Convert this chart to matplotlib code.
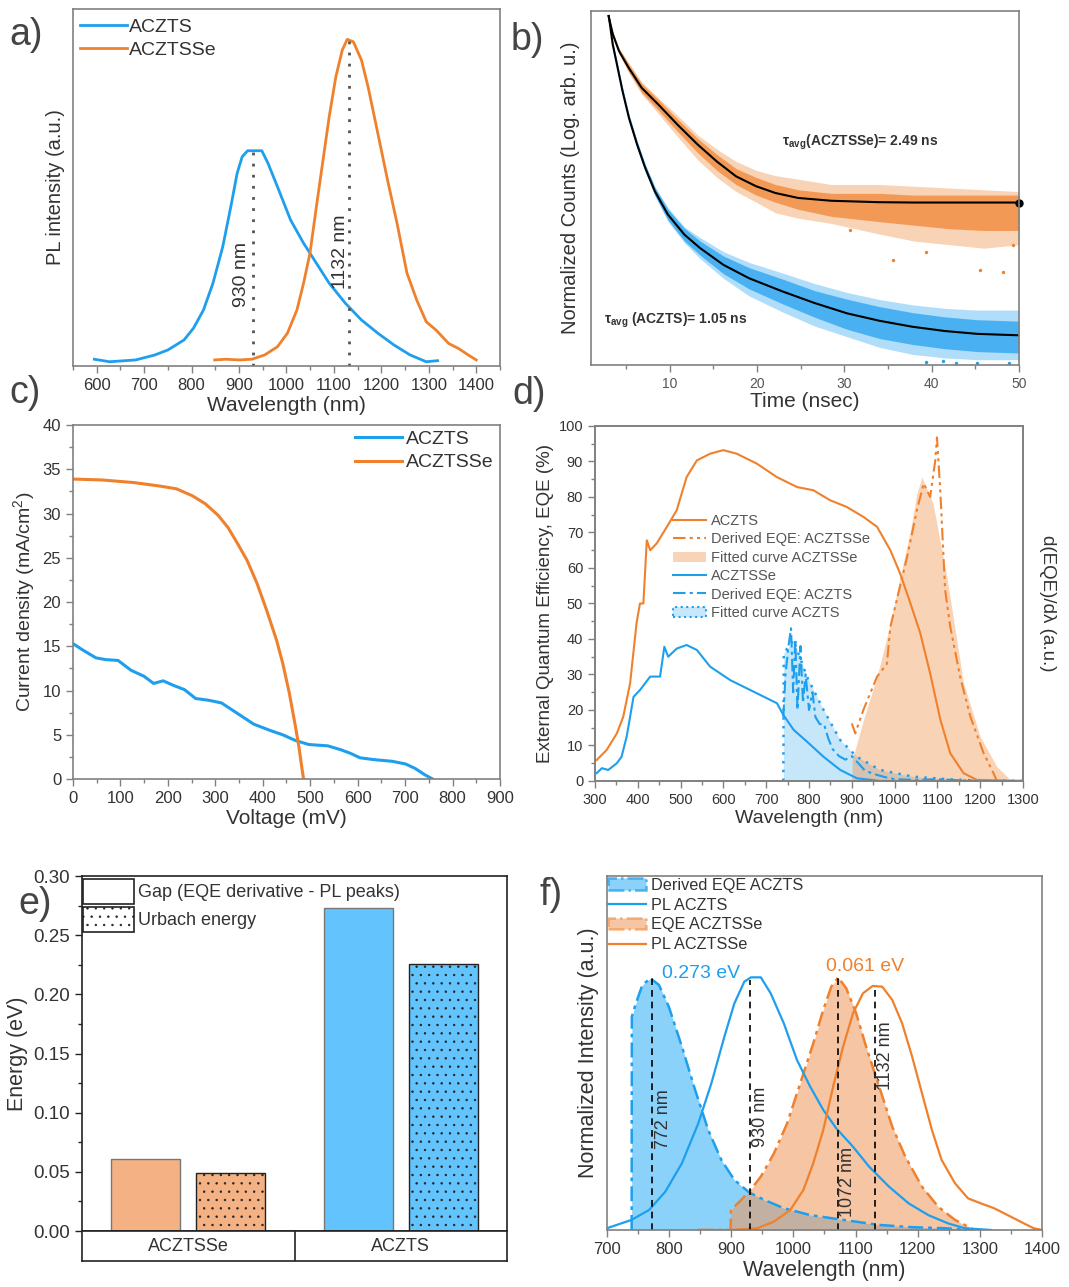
import matplotlib
matplotlib.use('Agg')
import matplotlib.pyplot as plt
from matplotlib.patches import Patch
from matplotlib.lines import Line2D
from matplotlib.ticker import MultipleLocator, NullLocator, FormatStrFormatter

plt.rcParams['font.family'] = ['Liberation Sans', 'DejaVu Sans']
plt.rcParams['mathtext.fontset'] = 'custom'
plt.rcParams['mathtext.rm'] = 'Liberation Sans'
plt.rcParams['mathtext.bf'] = 'Liberation Sans:bold'
plt.rcParams['mathtext.default'] = 'regular'
plt.rcParams['hatch.linewidth'] = 0.5

BLUE = '#1E9FEE'
ORANGE = '#F0812C'
TXT = '#333333'
SPINE = '#808080'

# ---- a) PL spectra
a_wl_s = [595, 627, 682, 722.6, 750, 784, 804, 825, 845, 865.6, 882.6, 896, 906.5, 918, 948, 961,
          981, 1008.6, 1036, 1063, 1090, 1124, 1158, 1192.5, 1226.5, 1260.5, 1294.6, 1318.5]
a_pl_s = [0.019, 0.012, 0.017, 0.031, 0.045, 0.073, 0.106, 0.157, 0.232, 0.334, 0.446, 0.54, 0.586,
          0.603, 0.603, 0.568, 0.502, 0.409, 0.344, 0.288, 0.232, 0.176, 0.129, 0.092, 0.059, 0.031,
          0.012, 0.015]
a_wl_se = [848.6, 872, 899.6, 927, 954, 981, 1002, 1022, 1036, 1049.5, 1063, 1077, 1090, 1104,
           1117.6, 1128, 1141, 1158, 1172, 1192.5, 1213, 1233, 1254, 1274.5, 1294.6, 1315, 1342,
           1362.7, 1383, 1400]
a_pl_se = [0.017, 0.019, 0.017, 0.019, 0.031, 0.054, 0.092, 0.157, 0.232, 0.316, 0.446, 0.577, 0.698,
           0.81, 0.885, 0.915, 0.908, 0.857, 0.782, 0.652, 0.521, 0.40, 0.26, 0.185, 0.124, 0.101,
           0.063, 0.049, 0.031, 0.017]
a_peaks = [930, 1132]
a_peak_h = [0.60, 0.91]

# ---- b) TRPL decays (fit line, dense core of the data cloud, sparse outer cloud)
b_t_se = [3.0, 3.5, 4.2, 5.3, 6.8, 8.7, 10.9, 13.2, 15.4, 17.6, 19.9, 22.1, 24.7, 28.5, 34, 38, 42,
          46, 50]
b_fit_se = [98.6, 93.4, 88.7, 84, 78.3, 73.6, 67.9, 62.3, 57.5, 53.3, 50.5, 48.6, 47.2, 46.4, 46.0,
            45.9, 45.9, 45.9, 45.9]
b_hi_se = [99.2, 94, 89.5, 85, 79.5, 75, 69.5, 64, 59.5, 55.5, 53, 51, 49.5, 48.5, 48.5, 48, 48, 48, 48]
b_lo_se = [98, 92.8, 88, 83, 77, 72, 66, 60, 55, 51, 48, 46, 44, 42, 40.5, 39.5, 38.5, 38, 38]
b_hi2_se = [99.2, 94, 89.5, 85.5, 80, 75.5, 70.5, 65, 61, 57.5, 55, 53.5, 52.5, 51, 51, 50.5, 50,
            49.5, 49]
b_lo2_se = [98, 92.8, 88, 82.5, 76.5, 71, 64.5, 58, 53, 49, 46, 43, 41.5, 40, 37, 35, 34, 33, 34]
b_out_t_se = [30.6, 35.6, 39.4, 45.5, 48.2, 49.3]
b_out_v_se = [38.1, 29.7, 32.0, 26.8, 26.4, 33.9]

b_t_s = [3.03, 3.48, 4.04, 4.6, 5.34, 6.27, 7.2, 8.32, 9.8, 11.7, 13.5, 16.15, 19.1, 22.9, 26.6,
         30.3, 34, 37.8, 41.5, 45.2, 48.6, 50]
b_fit_s = [98.6, 90.6, 84, 77.4, 69.8, 62.3, 55.7, 49, 42.5, 36.8, 33, 28.3, 24.5, 20.8, 17.5, 14.6,
           12.5, 10.8, 9.6, 8.8, 8.5, 8.4]
b_hi_s = [99.2, 91.4, 85, 78.4, 70.8, 63.3, 56.7, 50.2, 44, 38.6, 35, 30.8, 27.5, 24.3, 21, 18.6,
          16.5, 14.8, 13.6, 12.8, 12.5, 12.4]
b_lo_s = [98, 89.8, 83, 76.4, 68.8, 61.3, 54.7, 47.8, 41, 35, 31, 25.8, 21.5, 17.3, 13.5, 10.1, 7.5,
          5.8, 4.6, 3.8, 3.5, 3.4]
b_hi2_s = [99.2, 91.4, 85, 78.4, 70.8, 63.3, 56.7, 50.2, 44.5, 39, 36, 32, 29, 26, 23, 20.5, 18.5,
           17, 16, 15.5, 15.5, 15.5]
b_lo2_s = [98, 89.8, 83, 76.4, 68.8, 61.3, 54.7, 47.8, 40.5, 34.5, 30, 24.5, 19.5, 15, 11, 8, 5, 3,
           2, 1.5, 1.5, 1.5]
b_out_t_s = [39.4, 41.3, 42.8, 45.2, 48.9]
b_out_v_s = [0.8, 1.0, 0.6, 0.5, 0.7]

# ---- c) J-V curves
c_v_s = [0, 20, 48, 68, 95, 122, 150, 170, 190, 211, 235, 258.5, 286, 313, 347, 381, 415, 442, 469,
         497, 537, 565, 585, 605, 633, 673, 701, 721, 741, 758]
c_j_s = [15.3, 14.6, 13.7, 13.5, 13.4, 12.3, 11.6, 10.8, 11.1, 10.6, 10.1, 9.1, 8.9, 8.6, 7.4, 6.2,
         5.5, 5.0, 4.35, 3.9, 3.75, 3.3, 2.9, 2.4, 2.2, 2.0, 1.7, 1.2, 0.5, 0]
c_v_se = [0, 61, 129, 184, 218, 252, 279, 306, 327, 347, 367, 388, 408, 429, 442, 456, 469, 476,
          483, 486]
c_j_se = [33.9, 33.8, 33.5, 33.1, 32.8, 32.0, 31.1, 29.8, 28.4, 26.6, 24.7, 22.1, 19.1, 15.7, 13.1,
          9.7, 5.9, 3.7, 1.05, 0]

# ---- d) EQE and derivatives
d_wl_or = [304, 327, 351, 366, 382, 397, 405, 413, 421, 429, 444, 468, 491, 514, 538, 569, 600, 631,
           678, 725, 772, 810, 849, 888, 927, 959, 990, 1013, 1037, 1060, 1083, 1107, 1130, 1161, 1192, 1300]
d_eqe_or = [5.9, 8.7, 13.4, 18.1, 27.5, 44.4, 50.0, 50.0, 67.8, 65.0, 66.9, 71.6, 76.3, 85.6, 90.3, 92.2,
            93.2, 92.2, 89.4, 85.6, 82.8, 81.9, 79.1, 77.2, 74.4, 71.6, 65.0, 58.4, 50.0, 41.6, 30.3,
            17.2, 7.8, 2.2, 0.3, 0]
d_wl_bl = [304, 316, 331, 351, 362, 374, 390, 405, 417, 429, 452, 462, 471, 491, 514, 538, 569, 616,
           678, 725, 740, 764, 795, 834, 873, 912, 966, 1300]
d_eqe_bl = [2.2, 3.6, 3.1, 5.0, 6.8, 12.5, 23.7, 25.6, 27.5, 29.4, 29.4, 37.8, 35.0, 37.3, 38.3, 36.9,
            32.2, 28.4, 24.7, 21.9, 18.6, 14.4, 11.1, 6.8, 3.1, 0.75, 0, 0]
d_wl_der_bl = [740, 745, 752, 758, 763, 768, 773, 780, 786, 792, 800, 808, 815, 825, 835, 845, 855,
               870, 885, 900, 915, 930, 950, 980, 1000, 1050, 1100, 1150, 1200, 1300]
d_der_bl = [18, 30, 38, 43, 25, 40, 20, 38, 22, 30, 20, 25, 18, 16, 16, 12, 9, 7, 6, 7, 5, 3, 2, 1,
            0.5, 0.3, 0.5, 0.2, 0, 0]
d_wl_fit_bl = [740, 741, 764, 795, 834, 873, 912, 966, 1044, 1122, 1200, 1300]
d_fit_bl = [0, 36, 39.7, 29.4, 20, 11.5, 6.8, 3.1, 1.2, 0.5, 0.1, 0]
d_wl_der_or = [900, 908, 927, 959, 982, 990, 1005, 1029, 1052, 1068, 1083, 1095, 1099, 1107, 1118,
               1130, 1153, 1177, 1208, 1231, 1239]
d_der_or = [16.2, 13.4, 20, 29.4, 33, 43.4, 51, 63, 76.3, 83.8, 80, 90.3, 96.8, 81, 53.8, 43.4, 29.4,
            18.1, 7.8, 2.2, 0]
d_wl_fit_or = [900, 901, 927, 959, 990, 1013, 1037, 1052, 1064, 1090, 1122, 1161, 1200, 1239, 1263, 1271]
d_fit_or = [0, 5.9, 17.2, 29.4, 44.4, 57.5, 70.6, 81, 85.6, 78, 57.5, 27.5, 12.5, 4, 1.2, 0]

# ---- e) energies
e_groups = ['ACZTSSe', 'ACZTS']
e_gap = [0.061, 0.273]
e_urbach = [0.049, 0.226]

# ---- f) normalized spectra
f_wl_der_s = [739.7, 740, 746.5, 757, 770, 783.6, 799.5, 820.6, 841.8, 863, 884, 905, 929, 953,
              984.6, 1027, 1080, 1138, 1191, 1244, 1291]
f_der_s = [0, 0.844, 0.896, 0.969, 0.995, 0.969, 0.883, 0.725, 0.554, 0.395, 0.277, 0.198, 0.148,
           0.119, 0.086, 0.059, 0.04, 0.02, 0.011, 0.007, 0]
f_wl_pl_s = [700, 739.7, 767.7, 794, 820.6, 847, 868, 889, 905, 921, 931.7, 947.6, 963.4, 984.6,
             1005.8, 1027, 1048, 1069, 1095.7, 1122, 1154, 1185.6, 1217, 1249, 1275.6, 1318]
f_pl_s = [0.007, 0.04, 0.079, 0.152, 0.264, 0.422, 0.58, 0.765, 0.896, 0.982, 0.999, 0.999, 0.936,
          0.817, 0.672, 0.567, 0.475, 0.402, 0.33, 0.25, 0.171, 0.105, 0.059, 0.026, 0.007, 0]
f_wl_eqe_se = [847, 899, 899.5, 916, 929, 947.6, 968.7, 990, 1011, 1032, 1048, 1061, 1072, 1085,
               1101, 1117, 1138, 1159, 1180, 1207, 1233, 1260, 1286, 1291]
f_eqe_se = [0, 0, 0.079, 0.119, 0.152, 0.211, 0.303, 0.422, 0.58, 0.738, 0.87, 0.962, 0.999, 0.956,
            0.857, 0.725, 0.567, 0.409, 0.29, 0.171, 0.092, 0.04, 0.007, 0]
f_wl_pl_se = [847, 900, 942, 968.7, 995, 1016, 1032, 1048, 1064, 1080, 1096, 1112, 1127.5, 1143,
              1159, 1175, 1191, 1207, 1223, 1238.5, 1260, 1281, 1302, 1323, 1349.5, 1371, 1386.6, 1400]
f_pl_se = [0, 0, 0.007, 0.033, 0.079, 0.158, 0.264, 0.395, 0.567, 0.725, 0.857, 0.936, 0.965, 0.962,
           0.91, 0.817, 0.686, 0.54, 0.395, 0.277, 0.185, 0.125, 0.105, 0.086, 0.053, 0.026, 0.007, 0]
f_peaks = [772, 930, 1072, 1132]
f_peak_h = [0.995, 0.99, 0.995, 0.962]
f_label_x = [791.5, 947.6, 1087.7, 1148.6]
f_label_y = [0.44, 0.448, 0.19, 0.69]


def style(ax, spine=SPINE, size=12):
    for s in ax.spines.values():
        s.set_color(spine)
        s.set_linewidth(1.2)
    ax.tick_params(which='both', colors=spine, labelcolor=TXT, labelsize=size, direction='out')
    ax.tick_params(which='major', length=5, width=1)
    ax.tick_params(which='minor', length=3, width=1)


fig = plt.figure(figsize=(10.69, 12.87), dpi=100)

# ===================== a)
ax = fig.add_axes([0.0683, 0.7156, 0.3994, 0.2774])
ax.plot(a_wl_s, a_pl_s, color=BLUE, lw=2, label='ACZTS')
ax.plot(a_wl_se, a_pl_se, color=ORANGE, lw=2, label='ACZTSSe')
ax.vlines(a_peaks, 0, a_peak_h, colors='#555555', linestyles=(0, (1, 3)), lw=2)
ax.text(906, 0.255, '930 nm', rotation=90, ha='center', va='center', fontsize=14, color=TXT)
ax.text(1114, 0.32, '1132 nm', rotation=90, ha='center', va='center', fontsize=14, color=TXT)
ax.set_xlim(550, 1450)
ax.set_ylim(0, 1)
ax.xaxis.set_major_locator(MultipleLocator(100))
ax.xaxis.set_minor_locator(MultipleLocator(50))
ax.yaxis.set_major_locator(NullLocator())
style(ax)
ax.set_xlabel('Wavelength (nm)', fontsize=15, color=TXT, labelpad=2)
ax.set_ylabel('PL intensity (a.u.)', fontsize=14.5, color=TXT, labelpad=6)
ax.legend(loc='upper left', bbox_to_anchor=(0.016, 0.975), frameon=False, fontsize=14,
          handlelength=2.4, handletextpad=0.1, labelspacing=0.3, borderpad=0, borderaxespad=0,
          labelcolor=TXT)

# ===================== b)
ax = fig.add_axes([0.5529, 0.7164, 0.4004, 0.275])
ax.fill_between(b_t_se, b_lo2_se, b_hi2_se, color=ORANGE, alpha=0.35, lw=0)
ax.fill_between(b_t_se, b_lo_se, b_hi_se, color=ORANGE, alpha=0.7, lw=0)
ax.fill_between(b_t_s, b_lo2_s, b_hi2_s, color=BLUE, alpha=0.35, lw=0)
ax.fill_between(b_t_s, b_lo_s, b_hi_s, color=BLUE, alpha=0.7, lw=0)
ax.scatter(b_out_t_se, b_out_v_se, s=6, color=ORANGE, lw=0)
ax.scatter(b_out_t_s, b_out_v_s, s=6, color=BLUE, lw=0)
ax.plot(b_t_se, b_fit_se, color='black', lw=1.5)
ax.plot(b_t_s, b_fit_s, color='black', lw=1.5)
ax.plot(b_t_se[-1], b_fit_se[-1], 'o', color='black', ms=5, clip_on=False)
ax.text(22.9, 63, r'$\tau_{avg}$(ACZTSSe)= 2.49 ns', fontsize=10, fontweight='bold', color=TXT,
        ha='left', va='center')
ax.text(2.5, 12.7, r'$\tau_{avg}$ (ACZTS)= 1.05 ns', fontsize=10, fontweight='bold', color=TXT,
        ha='left', va='center')
ax.set_xlim(1, 50)
ax.set_ylim(0, 100)
ax.xaxis.set_major_locator(MultipleLocator(10))
ax.xaxis.set_minor_locator(MultipleLocator(5))
ax.yaxis.set_major_locator(NullLocator())
style(ax, size=10)
ax.tick_params(labelcolor='#555555')
ax.set_xlabel('Time (nsec)', fontsize=15, color=TXT, labelpad=1)
ax.set_ylabel('Normalized Counts (Log. arb. u.)', fontsize=14.5, color=TXT, labelpad=8)

# ===================== c)
ax = fig.add_axes([0.0683, 0.3947, 0.3994, 0.275])
ax.plot(c_v_s, c_j_s, color=BLUE, lw=2.2, label='ACZTS')
ax.plot(c_v_se, c_j_se, color=ORANGE, lw=2.2, label='ACZTSSe')
ax.set_xlim(0, 900)
ax.set_ylim(0, 40)
ax.xaxis.set_major_locator(MultipleLocator(100))
ax.xaxis.set_minor_locator(MultipleLocator(50))
ax.yaxis.set_major_locator(MultipleLocator(5))
ax.yaxis.set_minor_locator(MultipleLocator(2.5))
style(ax)
ax.set_xlabel('Voltage (mV)', fontsize=15, color=TXT, labelpad=2)
ax.set_ylabel('Current density (mA/cm$^2$)', fontsize=14, color=TXT, labelpad=4)
ax.legend(loc='upper right', bbox_to_anchor=(0.985, 0.985), frameon=False, fontsize=14,
          handlelength=2.4, handletextpad=0.2, labelspacing=0.3, borderpad=0, borderaxespad=0,
          labelcolor=TXT)

# ===================== d)
ax = fig.add_axes([0.5566, 0.3932, 0.4004, 0.2758])
ax.fill_between(d_wl_fit_bl, 0, d_fit_bl, color=BLUE, alpha=0.25, lw=0)
ax.plot(d_wl_fit_bl, d_fit_bl, color=BLUE, lw=1.8, ls=(0, (1, 2.5)))
ax.fill_between(d_wl_fit_or, 0, d_fit_or, color=ORANGE, alpha=0.35, lw=0)
ax.plot(d_wl_der_bl, d_der_bl, color=BLUE, lw=1.5, ls=(0, (6, 2, 1.5, 2)))
ax.plot(d_wl_der_or, d_der_or, color=ORANGE, lw=1.5, ls=(0, (6, 2, 1.5, 2, 1.5, 2)))
ax.plot(d_wl_or, d_eqe_or, color=ORANGE, lw=1.5)
ax.plot(d_wl_bl, d_eqe_bl, color=BLUE, lw=1.5)
ax.set_xlim(300, 1300)
ax.set_ylim(0, 100)
ax.xaxis.set_major_locator(MultipleLocator(100))
ax.xaxis.set_minor_locator(MultipleLocator(50))
ax.yaxis.set_major_locator(MultipleLocator(10))
ax.yaxis.set_minor_locator(MultipleLocator(5))
style(ax, size=10.5)
ax.set_xlabel('Wavelength (nm)', fontsize=14, color=TXT, labelpad=2)
ax.set_ylabel('External Quantum Efficiency, EQE (%)', fontsize=13.5, color=TXT, labelpad=3)
ax2 = ax.twinx()
ax2.set_ylim(0, 100)
ax2.yaxis.set_major_locator(NullLocator())
style(ax2)
ax2.set_ylabel('d(EQE)/dλ (a.u.)', fontsize=13.5, color=TXT, rotation=270, labelpad=24)
d_handles = [
    Line2D([], [], color=ORANGE, lw=1.5),
    Line2D([], [], color=ORANGE, lw=1.5, ls=(0, (6, 2, 1.5, 2, 1.5, 2))),
    Patch(facecolor=ORANGE, alpha=0.35, lw=0),
    Line2D([], [], color=BLUE, lw=1.5),
    Line2D([], [], color=BLUE, lw=1.5, ls=(0, (6, 2, 1.5, 2))),
    Patch(facecolor='#C7E7FB', edgecolor=BLUE, ls=':', lw=1.5),
]
d_labels = ['ACZTS', 'Derived EQE: ACZTSSe', 'Fitted curve ACZTSSe', 'ACZTSSe',
            'Derived EQE: ACZTS', 'Fitted curve ACZTS']
ax.legend(d_handles, d_labels, loc='upper left', bbox_to_anchor=(0.182, 0.752), frameon=False,
          fontsize=10.5, handlelength=2.3, handletextpad=0.3, labelspacing=0.3, borderpad=0,
          borderaxespad=0, labelcolor='#555555')

# ===================== e)
ax = fig.add_axes([0.0767, 0.0435, 0.3976, 0.2758])
gx = [0.5, 1.5]
e_colors = ['#F4B183', '#63C3FC']
ax.bar([g - 0.2 for g in gx], e_gap, width=0.325, color=e_colors, edgecolor='#777777', lw=1)
ax.bar([g + 0.2 for g in gx], e_urbach, width=0.325, color=e_colors, edgecolor='#222222', lw=1,
       hatch='..')
ax.set_xlim(0, 2)
ax.set_ylim(0, 0.30)
ax.xaxis.set_major_locator(NullLocator())
ax.yaxis.set_major_locator(MultipleLocator(0.05))
ax.yaxis.set_minor_locator(MultipleLocator(0.025))
ax.yaxis.set_major_formatter(FormatStrFormatter('%.2f'))
style(ax, spine='#222222', size=13.5)
ax.set_ylabel('Energy (eV)', fontsize=15.5, color=TXT, labelpad=4)
e_handles = [Patch(facecolor='white', edgecolor='#222222', lw=1.2),
             Patch(facecolor='white', edgecolor='#222222', lw=1.2, hatch='..')]
ax.legend(e_handles, ['Gap (EQE derivative - PL peaks)', 'Urbach energy'], loc='upper left',
          bbox_to_anchor=(0.003, 0.993), frameon=False, fontsize=13, handlelength=2.8,
          handleheight=1.75, handletextpad=0.25, labelspacing=0.2, borderpad=0, borderaxespad=0,
          labelcolor=TXT)
axc = fig.add_axes([0.0767, 0.0202, 0.3976, 0.0233])
axc.set_xlim(0, 2)
axc.set_ylim(0, 1)
axc.axvline(1, color='#222222', lw=1.2)
for g, name in zip(gx, e_groups):
    axc.text(g, 0.5, name, ha='center', va='center', fontsize=13, color=TXT)
axc.set_xticks([])
axc.set_yticks([])
for s in axc.spines.values():
    s.set_color('#222222')
    s.set_linewidth(1.2)

# ===================== f)
ax = fig.add_axes([0.5678, 0.0443, 0.4069, 0.2751])
ax.fill_between(f_wl_der_s, 0, f_der_s, color='#64C3FA', alpha=0.75, lw=0)
ax.fill_between(f_wl_eqe_se, 0, f_eqe_se, color='#F0965A', alpha=0.55, lw=0)
ax.plot(f_wl_der_s, f_der_s, color=BLUE, lw=1.8, ls=(0, (6, 2, 1.5, 2)))
ax.plot(f_wl_eqe_se, f_eqe_se, color=ORANGE, lw=1.8, ls=(0, (6, 2, 1.5, 2)))
ax.plot(f_wl_pl_s, f_pl_s, color=BLUE, lw=1.6)
ax.plot(f_wl_pl_se, f_pl_se, color=ORANGE, lw=1.6)
ax.vlines(f_peaks, 0, f_peak_h, colors='black', linestyles=(0, (4, 3)), lw=1.2)
for p, lx, ly in zip(f_peaks, f_label_x, f_label_y):
    ax.text(lx, ly, f'{p} nm', rotation=90, ha='center', va='center', fontsize=13, color=TXT)
ax.text(789, 1.015, '0.273 eV', color=BLUE, fontsize=14, ha='left', va='center')
ax.text(1053, 1.041, '0.061 eV', color=ORANGE, fontsize=14, ha='left', va='center')
ax.set_xlim(700, 1400)
ax.set_ylim(0, 1.4)
ax.xaxis.set_major_locator(MultipleLocator(100))
ax.xaxis.set_minor_locator(MultipleLocator(50))
ax.yaxis.set_major_locator(NullLocator())
style(ax)
ax.set_xlabel('Wavelength (nm)', fontsize=15.5, color=TXT, labelpad=2)
ax.set_ylabel('Normalized Intensity (a.u.)', fontsize=15.5, color=TXT, labelpad=6)
f_handles = [
    Patch(facecolor='#64C3FA', alpha=0.75, edgecolor=BLUE, ls='-.', lw=1.8),
    Line2D([], [], color=BLUE, lw=1.6),
    Patch(facecolor='#F0965A', alpha=0.55, edgecolor=ORANGE, ls='-.', lw=1.8),
    Line2D([], [], color=ORANGE, lw=1.6),
]
ax.legend(f_handles, ['Derived EQE ACZTS', 'PL ACZTS', 'EQE ACZTSSe', 'PL ACZTSSe'],
          loc='upper left', bbox_to_anchor=(0.003, 0.995), frameon=False, fontsize=11.7,
          handlelength=2.3, handletextpad=0.3, labelspacing=0.3, borderpad=0, borderaxespad=0,
          labelcolor=TXT)

# panel letters
for lab, x, y in [('a)', 0.009, 0.973), ('b)', 0.478, 0.969), ('c)', 0.009, 0.695),
                  ('d)', 0.479, 0.694), ('e)', 0.017, 0.2975), ('f)', 0.505, 0.3046)]:
    fig.text(x, y, lab, fontsize=27, color='#444444', va='center', ha='left')

fig.savefig('out.png', dpi=100)
